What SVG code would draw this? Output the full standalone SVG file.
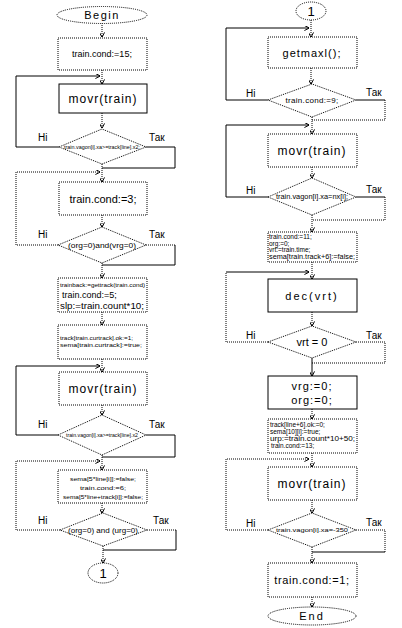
<svg xmlns="http://www.w3.org/2000/svg" width="402" height="628" viewBox="0 0 402 628">
<style>
text{font-family:"Liberation Sans",Arial,sans-serif;fill:#000}
.b{fill:#fff;stroke:#000;stroke-width:1}
.bd{fill:#fff;stroke:#000;stroke-width:1;stroke-dasharray:1 1}
.s{fill:none;stroke:#000;stroke-width:1}
.d{fill:none;stroke:#000;stroke-width:1;stroke-dasharray:1 1}
.c{text-anchor:middle}
.lbl{font-size:10px}
.big{font-size:11px}
</style>
<defs>
<marker id="a" viewBox="0 0 6 6" refX="5.5" refY="3" markerWidth="5" markerHeight="5" orient="auto" markerUnits="userSpaceOnUse">
<path d="M0,0 L6,3 L0,6" fill="none" stroke="#000" stroke-width="1.2"/>
</marker>
</defs>
<rect width="402" height="628" fill="#fff"/>
<g id="connectors">
<path class="d" d="M102,23 V37" marker-end="url(#a)"/>
<path class="d" d="M102,70 V84" marker-end="url(#a)"/>
<path class="d" d="M102,113 V128" marker-end="url(#a)"/>
<path class="s" d="M59,147 H16 V76 H100" marker-end="url(#a)"/>
<path class="s" d="M146,147 H175 V168 H102"/>
<path class="d" d="M102,164 V182" marker-end="url(#a)"/>
<path class="d" d="M58,245 H16 V172 H100" marker-end="url(#a)"/>
<path class="d" d="M102,215 V227" marker-end="url(#a)"/>
<path class="d" d="M146,245 H175"/>
<path class="s" d="M175,245 V265 H102"/>
<path class="d" d="M102,263 V278" marker-end="url(#a)"/>
<path class="d" d="M102,312 V325" marker-end="url(#a)"/>
<path class="d" d="M102,359 V372" marker-end="url(#a)"/>
<path class="s" d="M58,435 H16 V366 H100" marker-end="url(#a)"/>
<path class="d" d="M102,405 V415" marker-end="url(#a)"/>
<path class="s" d="M146,435 H175 V457 H102"/>
<path class="d" d="M102,455 V470" marker-end="url(#a)"/>
<path class="d" d="M60,530 H16 V461 H100" marker-end="url(#a)"/>
<path class="d" d="M102,503 V513" marker-end="url(#a)"/>
<path class="d" d="M147,530 H176"/>
<path class="s" d="M176,530 V550 H103"/>
<path class="d" d="M103,546 V563" marker-end="url(#a)"/>
<path class="d" d="M311,20 V37" marker-end="url(#a)"/>
<path class="s" d="M268,100 H226 V28 H309" marker-end="url(#a)"/>
<path class="d" d="M311,68 V84" marker-end="url(#a)"/>
<path class="s" d="M356,100 H385"/>
<path class="d" d="M385,100 V120 H312"/>
<path class="d" d="M312,117 V134" marker-end="url(#a)"/>
<path class="s" d="M268,197 H226 V125 H309" marker-end="url(#a)"/>
<path class="d" d="M312,167 V178" marker-end="url(#a)"/>
<path class="s" d="M356,197 H385"/>
<path class="d" d="M385,197 V220 H312"/>
<path class="d" d="M312,215 V232" marker-end="url(#a)"/>
<path class="d" d="M312,262 V279" marker-end="url(#a)"/>
<path class="d" d="M268,342 H226 V272"/>
<path class="s" d="M226,272 H309" marker-end="url(#a)"/>
<path class="d" d="M312,312 V326" marker-end="url(#a)"/>
<path class="d" d="M356,342 H385 V363 H312"/>
<path class="s" d="M312,358 V376" marker-end="url(#a)"/>
<path class="d" d="M312,409 V419" marker-end="url(#a)"/>
<path class="d" d="M312,453 V467" marker-end="url(#a)"/>
<path class="d" d="M268,530 H226 V459 H309" marker-end="url(#a)"/>
<path class="d" d="M312,500 V513" marker-end="url(#a)"/>
<path class="d" d="M356,530 H385 V552"/>
<path class="s" d="M385,552 H312"/>
<path class="d" d="M312,547 V563" marker-end="url(#a)"/>
<path class="d" d="M312,597 V607" marker-end="url(#a)"/>
</g>
<g id="labels">
<text class="lbl" x="38" y="141">Hi</text>
<text class="lbl" x="149" y="141">Так</text>
<text class="lbl" x="38" y="238">Hi</text>
<text class="lbl" x="149" y="238">Так</text>
<text class="lbl" x="38" y="428">Hi</text>
<text class="lbl" x="149" y="428">Так</text>
<text class="lbl" x="38" y="524">Hi</text>
<text class="lbl" x="153" y="524">Так</text>
<text class="lbl" x="246" y="97">Hi</text>
<text class="lbl" x="366" y="96">Так</text>
<text class="lbl" x="246" y="194">Hi</text>
<text class="lbl" x="366" y="193">Так</text>
<text class="lbl" x="246" y="339">Hi</text>
<text class="lbl" x="366" y="339">Так</text>
<text class="lbl" x="246" y="527">Hi</text>
<text class="lbl" x="366" y="526">Так</text>
</g>
<g id="begin"><ellipse class="bd" cx="102" cy="15" rx="45" ry="8.5"/><text class="c big" x="102" y="19" letter-spacing="1.5">Begin</text></g>
<g id="n1"><rect class="bd" x="58" y="38" width="89" height="32"/><text class="c" x="102" y="57" font-size="9">train.cond:=15;</text></g>
<g id="n2"><rect class="b" x="59" y="84" width="88" height="29"/><text class="c" x="103" y="103" font-size="12" letter-spacing="1">movr(train)</text></g>
<g id="n3"><polygon class="bd" points="59,147 102,129 146,147 102,164"/><text class="c" x="102" y="149" font-size="5" textLength="76" lengthAdjust="spacingAndGlyphs">train.vagon[i].xa&gt;=track[line].x2;</text></g>
<g id="n4"><rect class="bd" x="59" y="182" width="88" height="33"/><text class="c" x="103" y="203" font-size="11">train.cond:=3;</text></g>
<g id="n5"><polygon class="bd" points="58,245 102,227 146,245 102,263"/><text class="c" x="102" y="248" font-size="8" textLength="68" lengthAdjust="spacingAndGlyphs">(org=0)and(vrg=0)</text></g>
<g id="n6"><rect class="bd" x="58" y="278" width="89" height="34"/>
<text x="60" y="287" font-size="5.5" textLength="85" lengthAdjust="spacingAndGlyphs">trainback:=gettrack(train.cond)</text>
<text x="62" y="298" font-size="9">train.cond:=5;</text>
<text x="60" y="309" font-size="9" textLength="84" lengthAdjust="spacingAndGlyphs">slp:=train.count*10;</text></g>
<g id="n7"><rect class="bd" x="58" y="325" width="89" height="34"/>
<text x="60" y="340" font-size="5" textLength="73" lengthAdjust="spacingAndGlyphs">track[train.curtrack].ok:=1;</text>
<text x="60" y="347" font-size="5" textLength="82" lengthAdjust="spacingAndGlyphs">sema[train.curtrack]:=true;</text></g>
<g id="n8"><rect class="bd" x="59" y="372" width="88" height="33"/><text class="c" x="103" y="393" font-size="12" letter-spacing="1">movr(train)</text></g>
<g id="n9"><polygon class="bd" points="58,435 102,415 146,435 102,455"/><text class="c" x="102" y="437" font-size="5" textLength="72" lengthAdjust="spacingAndGlyphs">train.vagon[i].xa&gt;=track[line].x2</text></g>
<g id="n10"><rect class="bd" x="58" y="470" width="89" height="33"/>
<text class="c" x="103" y="481" font-size="5.5" textLength="66" lengthAdjust="spacingAndGlyphs">sema[5*line[i]]:=false;</text>
<text class="c" x="103" y="490" font-size="5.5" textLength="46" lengthAdjust="spacingAndGlyphs">train.cond:=6;</text>
<text class="c" x="103" y="499" font-size="5.5" textLength="80" lengthAdjust="spacingAndGlyphs">sema[5*line+track[i]]:=false;</text></g>
<g id="n11"><polygon class="bd" points="60,530 103,513 147,530 103,546"/><text class="c" x="103" y="533" font-size="7" textLength="70" lengthAdjust="spacingAndGlyphs">(org=0) and (urg=0)</text></g>
<g id="c1a"><ellipse class="bd" cx="103" cy="573" rx="15" ry="10"/><text class="c" x="103" y="578" font-size="13">1</text></g>
<g id="c1b"><ellipse class="bd" cx="311" cy="11" rx="15" ry="9"/><text class="c" x="311" y="16" font-size="13">1</text></g>
<g id="r1"><rect class="bd" x="268" y="37" width="89" height="31"/><text class="c" x="312" y="57" font-size="11" letter-spacing="1">getmaxl();</text></g>
<g id="r2"><polygon class="bd" points="268,100 312,84 356,100 312,117"/><text class="c" x="312" y="103" font-size="8" letter-spacing="0.3">train.cond:=9;</text></g>
<g id="r3"><rect class="bd" x="268" y="134" width="89" height="33"/><text class="c" x="312" y="155" font-size="12" letter-spacing="1">movr(train)</text></g>
<g id="r4"><polygon class="bd" points="268,197 312,178 356,197 312,215"/><text class="c" x="312" y="199" font-size="6.5" textLength="72" lengthAdjust="spacingAndGlyphs">train.vagon[i].xa=nx[i];</text></g>
<g id="r5"><rect class="bd" x="268" y="232" width="89" height="30"/>
<text x="269" y="239" font-size="6.5">train.cond:=11;</text>
<text x="269" y="245.5" font-size="6.5">org:=0;</text>
<text x="269" y="252" font-size="6.5">vrt:=train.time;</text>
<text x="269" y="258.5" font-size="6.5" textLength="86" lengthAdjust="spacingAndGlyphs">sema[train.track+6]:=false;</text></g>
<g id="r6"><rect class="b" x="268" y="279" width="89" height="33"/><text class="c" x="312" y="300" font-size="11" letter-spacing="2">dec(vrt)</text></g>
<g id="r7"><polygon class="bd" points="268,342 312,326 356,342 312,358"/><text class="c" x="312" y="346" font-size="11">vrt = 0</text></g>
<g id="r8"><rect class="b" x="268" y="376" width="89" height="33"/><text class="c" x="312" y="390" font-size="11" letter-spacing="1">vrg:=0;</text><text class="c" x="312" y="404" font-size="11" letter-spacing="1">org:=0;</text></g>
<g id="r9"><rect class="bd" x="268" y="419" width="89" height="34"/>
<text x="270" y="427" font-size="6.5">track[line+6].ok:=0;</text>
<text x="270" y="434" font-size="6.5">sema[10][i]:=true;</text>
<text x="270" y="441" font-size="6.5" textLength="85" lengthAdjust="spacingAndGlyphs">urp:=train.count*10+50;</text>
<text x="271" y="448" font-size="6.5">train.cond:=13;</text></g>
<g id="r10"><rect class="bd" x="268" y="467" width="89" height="33"/><text class="c" x="312" y="488" font-size="12" letter-spacing="1">movr(train)</text></g>
<g id="r11"><polygon class="bd" points="268,530 312,513 356,530 312,547"/><text class="c" x="312" y="532" font-size="6" textLength="72" lengthAdjust="spacingAndGlyphs">train.vagon[i].xa=-350</text></g>
<g id="r12"><rect class="bd" x="268" y="563" width="89" height="34"/><text class="c" x="312" y="584" font-size="11" letter-spacing="0.6">train.cond:=1;</text></g>
<g id="end"><ellipse class="bd" cx="312" cy="616" rx="44" ry="9"/><text class="c" x="312" y="620" font-size="11" letter-spacing="2">End</text></g>
</svg>
